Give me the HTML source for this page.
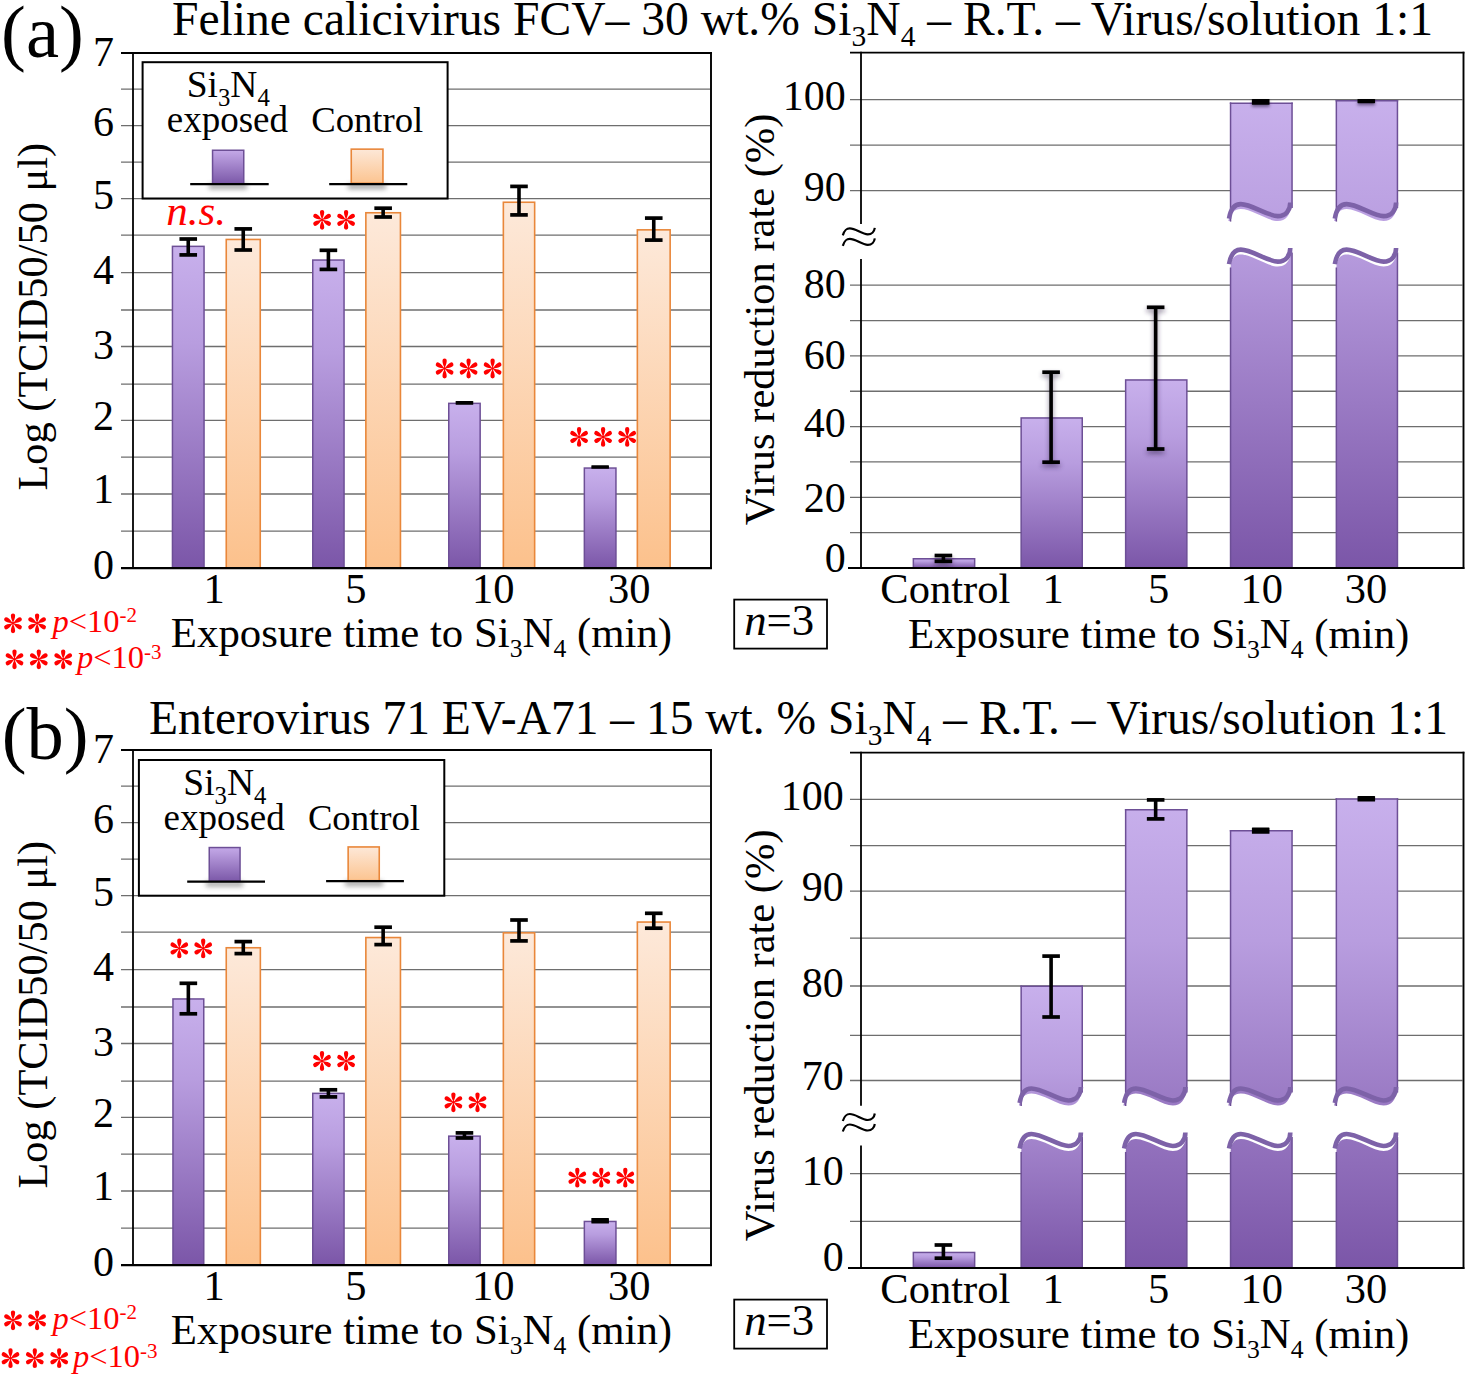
<!DOCTYPE html><html><head><meta charset="utf-8"><style>html,body{margin:0;padding:0;background:#fff;width:1467px;height:1376px;overflow:hidden}svg{display:block}text{font-family:"Liberation Serif",serif}</style></head><body>
<svg width="1467" height="1376" viewBox="0 0 1467 1376" font-family="Liberation Serif, serif">
<defs>
<linearGradient id="gp" x1="0" y1="0" x2="0" y2="1"><stop offset="0" stop-color="#c8b0ec"/><stop offset="0.3" stop-color="#b89ddf"/><stop offset="1" stop-color="#7b56a8"/></linearGradient>
<linearGradient id="go" x1="0" y1="0" x2="0" y2="1"><stop offset="0" stop-color="#fde9da"/><stop offset="1" stop-color="#fcc18c"/></linearGradient>
<linearGradient id="gpl" x1="0" y1="0" x2="0" y2="1"><stop offset="0" stop-color="#c4a9e8"/><stop offset="1" stop-color="#7b58a8"/></linearGradient>
<linearGradient id="gol" x1="0" y1="0" x2="0" y2="1"><stop offset="0" stop-color="#fde8d8"/><stop offset="1" stop-color="#fcc490"/></linearGradient>
<linearGradient id="gA10" gradientUnits="userSpaceOnUse" x1="0" y1="100" x2="0" y2="568"><stop offset="0" stop-color="#c8b0ec"/><stop offset="0.3" stop-color="#b89ddf"/><stop offset="1" stop-color="#7b56a8"/></linearGradient>
<linearGradient id="gB1" gradientUnits="userSpaceOnUse" x1="0" y1="985" x2="0" y2="1268"><stop offset="0" stop-color="#c8b0ec"/><stop offset="0.3" stop-color="#b89ddf"/><stop offset="1" stop-color="#7b56a8"/></linearGradient>
<linearGradient id="gB5" gradientUnits="userSpaceOnUse" x1="0" y1="800" x2="0" y2="1268"><stop offset="0" stop-color="#c8b0ec"/><stop offset="0.3" stop-color="#b89ddf"/><stop offset="1" stop-color="#7b56a8"/></linearGradient>
<filter id="blur2" x="-50%" y="-200%" width="200%" height="500%"><feGaussianBlur stdDeviation="1.8"/></filter>
<filter id="blur2b" x="-50%" y="-50%" width="200%" height="200%"><feGaussianBlur stdDeviation="2.4"/></filter>
<filter id="blur3" x="-50%" y="-200%" width="200%" height="500%"><feGaussianBlur stdDeviation="2.5"/></filter>
<g id="ast"><path d="M0,0 C-0.6,-2.2 -2.15,-4.6 -2.15,-7.75 A2.15,2.15 0 1 1 2.15,-7.75 C2.15,-4.6 0.6,-2.2 0,0 Z" transform="rotate(0)"/><path d="M0,0 C-0.6,-2.2 -2.15,-4.6 -2.15,-7.75 A2.15,2.15 0 1 1 2.15,-7.75 C2.15,-4.6 0.6,-2.2 0,0 Z" transform="rotate(60)"/><path d="M0,0 C-0.6,-2.2 -2.15,-4.6 -2.15,-7.75 A2.15,2.15 0 1 1 2.15,-7.75 C2.15,-4.6 0.6,-2.2 0,0 Z" transform="rotate(120)"/><path d="M0,0 C-0.6,-2.2 -2.15,-4.6 -2.15,-7.75 A2.15,2.15 0 1 1 2.15,-7.75 C2.15,-4.6 0.6,-2.2 0,0 Z" transform="rotate(180)"/><path d="M0,0 C-0.6,-2.2 -2.15,-4.6 -2.15,-7.75 A2.15,2.15 0 1 1 2.15,-7.75 C2.15,-4.6 0.6,-2.2 0,0 Z" transform="rotate(240)"/><path d="M0,0 C-0.6,-2.2 -2.15,-4.6 -2.15,-7.75 A2.15,2.15 0 1 1 2.15,-7.75 C2.15,-4.6 0.6,-2.2 0,0 Z" transform="rotate(300)"/><circle r="1.3"/></g>
</defs>
<text x="1.1" y="56.7" font-size="74.5" text-anchor="start" fill="#000"  >(a)</text>
<text x="172" y="34.8" font-size="47.6" text-anchor="start" fill="#000"  >Feline calicivirus FCV– 30 wt.% Si<tspan font-size="29.51" dy="10.95">3</tspan><tspan dy="-10.95">N</tspan><tspan font-size="29.51" dy="10.95">4</tspan><tspan dy="-10.95"> – R.T. – Virus/solution 1:1</tspan></text>
<line x1="121" y1="89.1" x2="710" y2="89.1" stroke="#6e6e6e" stroke-width="1.3" />
<line x1="121" y1="125.6" x2="710" y2="125.6" stroke="#6e6e6e" stroke-width="1.3" />
<line x1="121" y1="162.1" x2="710" y2="162.1" stroke="#6e6e6e" stroke-width="1.3" />
<line x1="121" y1="198.6" x2="710" y2="198.6" stroke="#6e6e6e" stroke-width="1.3" />
<line x1="121" y1="235.2" x2="710" y2="235.2" stroke="#6e6e6e" stroke-width="1.3" />
<line x1="121" y1="272.7" x2="710" y2="272.7" stroke="#6e6e6e" stroke-width="1.3" />
<line x1="121" y1="310" x2="710" y2="310" stroke="#6e6e6e" stroke-width="1.3" />
<line x1="121" y1="346.5" x2="710" y2="346.5" stroke="#6e6e6e" stroke-width="1.3" />
<line x1="121" y1="384.2" x2="710" y2="384.2" stroke="#6e6e6e" stroke-width="1.3" />
<line x1="121" y1="420.3" x2="710" y2="420.3" stroke="#6e6e6e" stroke-width="1.3" />
<line x1="121" y1="457.2" x2="710" y2="457.2" stroke="#6e6e6e" stroke-width="1.3" />
<line x1="121" y1="494" x2="710" y2="494" stroke="#6e6e6e" stroke-width="1.3" />
<line x1="121" y1="531.1" x2="710" y2="531.1" stroke="#6e6e6e" stroke-width="1.3" />
<rect x="172.45" y="246.35" width="31.6" height="321.75" fill="url(#gp)" stroke="#6d4f96" stroke-width="1.5"/>
<rect x="226.25" y="239.45" width="34" height="328.65" fill="url(#go)" stroke="#e9873a" stroke-width="1.6"/>
<rect x="312.75" y="260.05" width="31.3" height="308.05" fill="url(#gp)" stroke="#6d4f96" stroke-width="1.5"/>
<rect x="365.85" y="212.75" width="34.6" height="355.35" fill="url(#go)" stroke="#e9873a" stroke-width="1.6"/>
<rect x="448.75" y="403.35" width="31.4" height="164.75" fill="url(#gp)" stroke="#6d4f96" stroke-width="1.5"/>
<rect x="503.35" y="202.25" width="31.3" height="365.85" fill="url(#go)" stroke="#e9873a" stroke-width="1.6"/>
<rect x="584.35" y="468.05" width="31.6" height="100.05" fill="url(#gp)" stroke="#6d4f96" stroke-width="1.5"/>
<rect x="637.35" y="229.85" width="32.8" height="338.25" fill="url(#go)" stroke="#e9873a" stroke-width="1.6"/>
<rect x="142.6" y="62.2" width="305" height="136.3" fill="#fff" stroke="#000" stroke-width="2"/>
<rect x="209" y="184" width="38" height="5" fill="#555" opacity="0.55" filter="url(#blur3)"/>
<rect x="348" y="184" width="38" height="5" fill="#555" opacity="0.55" filter="url(#blur3)"/>
<rect x="212.55" y="150.25" width="31.2" height="33.45" fill="url(#gpl)" stroke="#6d4f96" stroke-width="1.5"/>
<rect x="351.25" y="149.15" width="31.7" height="34.15" fill="url(#gol)" stroke="#e9873a" stroke-width="1.6"/>
<line x1="190.2" y1="184.1" x2="268.7" y2="184.1" stroke="#000" stroke-width="2.2" />
<line x1="329.2" y1="184.1" x2="407.3" y2="184.1" stroke="#000" stroke-width="2.2" />
<text x="228.2" y="97" font-size="37.5" text-anchor="middle" fill="#000"  >Si<tspan font-size="24.75" dy="9">3</tspan><tspan dy="-9">N</tspan><tspan font-size="24.75" dy="9">4</tspan><tspan dy="-9"></tspan></text>
<text x="227.4" y="132.4" font-size="37" text-anchor="middle" fill="#000"  >exposed</text>
<text x="367.25" y="132.4" font-size="36.7" text-anchor="middle" fill="#000"  >Control</text>
<g stroke="#000" fill="none" >
<line x1="188.25" y1="239" x2="188.25" y2="254.9" stroke-width="3.6"/>
<line x1="179.45" y1="239" x2="197.05" y2="239" stroke-width="3.7"/>
<line x1="179.45" y1="254.9" x2="197.05" y2="254.9" stroke-width="3.7"/>
</g>
<g stroke="#000" fill="none" >
<line x1="243.25" y1="228.9" x2="243.25" y2="250" stroke-width="3.6"/>
<line x1="234.45" y1="228.9" x2="252.05" y2="228.9" stroke-width="3.7"/>
<line x1="234.45" y1="250" x2="252.05" y2="250" stroke-width="3.7"/>
</g>
<g stroke="#000" fill="none" >
<line x1="328.4" y1="250.3" x2="328.4" y2="269.4" stroke-width="3.6"/>
<line x1="319.6" y1="250.3" x2="337.2" y2="250.3" stroke-width="3.7"/>
<line x1="319.6" y1="269.4" x2="337.2" y2="269.4" stroke-width="3.7"/>
</g>
<g stroke="#000" fill="none" >
<line x1="383.15" y1="208.2" x2="383.15" y2="217" stroke-width="3.6"/>
<line x1="374.35" y1="208.2" x2="391.95" y2="208.2" stroke-width="3.7"/>
<line x1="374.35" y1="217" x2="391.95" y2="217" stroke-width="3.7"/>
</g>
<rect x="455.65" y="401" width="17.6" height="3.8" fill="#000" rx="0.6"/>
<g stroke="#000" fill="none" >
<line x1="519" y1="186.4" x2="519" y2="214.9" stroke-width="3.6"/>
<line x1="510.2" y1="186.4" x2="527.8" y2="186.4" stroke-width="3.7"/>
<line x1="510.2" y1="214.9" x2="527.8" y2="214.9" stroke-width="3.7"/>
</g>
<rect x="591.35" y="465.2" width="17.6" height="3.6" fill="#000" rx="0.6"/>
<g stroke="#000" fill="none" >
<line x1="653.75" y1="218.1" x2="653.75" y2="240.1" stroke-width="3.6"/>
<line x1="644.95" y1="218.1" x2="662.55" y2="218.1" stroke-width="3.7"/>
<line x1="644.95" y1="240.1" x2="662.55" y2="240.1" stroke-width="3.7"/>
</g>
<line x1="121" y1="53" x2="711.9" y2="53" stroke="#000" stroke-width="1.9" />
<line x1="133" y1="52.1" x2="133" y2="568.1" stroke="#000" stroke-width="1.8" />
<line x1="711" y1="52.1" x2="711" y2="569.1" stroke="#000" stroke-width="1.9" />
<line x1="121" y1="568.1" x2="711.9" y2="568.1" stroke="#000" stroke-width="2.2" />
<text x="114" y="578.9" font-size="42" text-anchor="end" fill="#000"  >0</text>
<text x="114" y="503" font-size="42" text-anchor="end" fill="#000"  >1</text>
<text x="114" y="430.4" font-size="42" text-anchor="end" fill="#000"  >2</text>
<text x="114" y="358.6" font-size="42" text-anchor="end" fill="#000"  >3</text>
<text x="114" y="283.9" font-size="42" text-anchor="end" fill="#000"  >4</text>
<text x="114" y="208.5" font-size="42" text-anchor="end" fill="#000"  >5</text>
<text x="114" y="136.2" font-size="42" text-anchor="end" fill="#000"  >6</text>
<text x="114" y="65.5" font-size="42" text-anchor="end" fill="#000"  >7</text>
<text x="166.3" y="224.5" font-size="43" text-anchor="start" fill="#f00" font-style="italic" >n.s.</text>
<use href="#ast" x="322.1" y="219.8" fill="#f00"/>
<use href="#ast" x="346.1" y="219.8" fill="#f00"/>
<use href="#ast" x="444.6" y="368.5" fill="#f00"/>
<use href="#ast" x="468.6" y="368.5" fill="#f00"/>
<use href="#ast" x="492.6" y="368.5" fill="#f00"/>
<use href="#ast" x="579.1" y="436.9" fill="#f00"/>
<use href="#ast" x="603.1" y="436.9" fill="#f00"/>
<use href="#ast" x="627.2" y="436.9" fill="#f00"/>
<text x="214" y="603.2" font-size="42.5" text-anchor="middle" fill="#000"  >1</text>
<text x="355.8" y="603.2" font-size="42.5" text-anchor="middle" fill="#000"  >5</text>
<text x="493.2" y="603.2" font-size="42.5" text-anchor="middle" fill="#000"  >10</text>
<text x="629.2" y="603.2" font-size="42.5" text-anchor="middle" fill="#000"  >30</text>
<text transform="translate(47.4,316.7) rotate(-90)" font-size="42.4" text-anchor="middle">Log (TCID50/50 μl)</text>
<text x="421.45" y="646.8" font-size="42.8" text-anchor="middle" fill="#000"  >Exposure time to Si<tspan font-size="25.68" dy="9.84">3</tspan><tspan dy="-9.84">N</tspan><tspan font-size="25.68" dy="9.84">4</tspan><tspan dy="-9.84"> (min)</tspan></text>
<use href="#ast" x="13" y="623.3" fill="#f00"/>
<use href="#ast" x="37.1" y="623.3" fill="#f00"/>
<text x="52.5" y="631.6" font-size="32.5" text-anchor="start" fill="#f00"  ><tspan font-style="italic">p</tspan>&lt;10<tspan font-size="21" dy="-9.2">-2</tspan></text>
<use href="#ast" x="14.5" y="659.3" fill="#f00"/>
<use href="#ast" x="38.8" y="659.3" fill="#f00"/>
<use href="#ast" x="63.2" y="659.3" fill="#f00"/>
<text x="77" y="667.9" font-size="32.5" text-anchor="start" fill="#f00"  ><tspan font-style="italic">p</tspan>&lt;10<tspan font-size="21" dy="-9.2">-3</tspan></text>
<line x1="850" y1="99.7" x2="1462.5" y2="99.7" stroke="#6e6e6e" stroke-width="1.3" />
<line x1="850" y1="145.15" x2="1462.5" y2="145.15" stroke="#6e6e6e" stroke-width="1.3" />
<line x1="850" y1="190.6" x2="1462.5" y2="190.6" stroke="#6e6e6e" stroke-width="1.3" />
<line x1="850" y1="532.65" x2="1462.5" y2="532.65" stroke="#6e6e6e" stroke-width="1.3" />
<line x1="850" y1="497.3" x2="1462.5" y2="497.3" stroke="#6e6e6e" stroke-width="1.3" />
<line x1="850" y1="461.95" x2="1462.5" y2="461.95" stroke="#6e6e6e" stroke-width="1.3" />
<line x1="850" y1="426.6" x2="1462.5" y2="426.6" stroke="#6e6e6e" stroke-width="1.3" />
<line x1="850" y1="391.25" x2="1462.5" y2="391.25" stroke="#6e6e6e" stroke-width="1.3" />
<line x1="850" y1="355.9" x2="1462.5" y2="355.9" stroke="#6e6e6e" stroke-width="1.3" />
<line x1="850" y1="320.55" x2="1462.5" y2="320.55" stroke="#6e6e6e" stroke-width="1.3" />
<line x1="850" y1="285.2" x2="1462.5" y2="285.2" stroke="#6e6e6e" stroke-width="1.3" />
<rect x="913.35" y="558.75" width="61.3" height="9.25" fill="url(#gp)" stroke="#6d4f96" stroke-width="1.5"/>
<rect x="1021.15" y="417.95" width="61.1" height="150.05" fill="url(#gp)" stroke="#6d4f96" stroke-width="1.5"/>
<rect x="1125.65" y="379.95" width="61.2" height="188.05" fill="url(#gp)" stroke="#6d4f96" stroke-width="1.5"/>
<path d="M1230.55,103.15 L1292.05,103.15 L1292.05,206.1 L1290.3,207.6 C1290.3,215.1 1285.8,221.1 1277.8,221.1 C1267.8,221.1 1251.8,209.1 1240.8,209.1 C1234.8,209.1 1229.8,213.1 1228.3,221.1 L1230.55,221.1 Z" fill="url(#gA10)"/>
<line x1="1230.55" y1="102.4" x2="1230.55" y2="221.6" stroke="#6d4f96" stroke-width="1.5" />
<line x1="1292.05" y1="102.4" x2="1292.05" y2="208.1" stroke="#6d4f96" stroke-width="1.5" />
<line x1="1229.8" y1="103.15" x2="1292.8" y2="103.15" stroke="#6d4f96" stroke-width="1.5" />
<path d="M1229,218.6 C1230.8,208.1 1235.3,204.1 1240.8,204.1 C1251.8,204.1 1267.8,216.1 1277.8,216.1 C1285.8,216.1 1290.3,210.1 1290.3,202.6" fill="none" stroke="#7d62a8" stroke-width="4.6"/>
<path d="M1230.55,268.6 C1230.8,258.6 1234.8,254.6 1240.8,254.6 C1251.8,254.6 1267.8,266.6 1277.8,266.6 C1283.8,266.6 1287.8,263.6 1290.3,256.6 L1292.05,250.1 L1292.05,568 L1230.55,568 Z" fill="url(#gA10)"/>
<line x1="1230.55" y1="267.6" x2="1230.55" y2="568" stroke="#6d4f96" stroke-width="1.5" />
<line x1="1292.05" y1="252.6" x2="1292.05" y2="568" stroke="#6d4f96" stroke-width="1.5" />
<path d="M1229,264.1 C1230.8,253.6 1235.3,249.6 1240.8,249.6 C1251.8,249.6 1267.8,261.6 1277.8,261.6 C1285.8,261.6 1290.3,255.6 1290.3,248.1" fill="none" stroke="#7d62a8" stroke-width="4.6"/>
<path d="M1336.35,100.65 L1397.45,100.65 L1397.45,206.1 L1396.1,207.6 C1396.1,215.1 1391.6,221.1 1383.6,221.1 C1373.6,221.1 1357.6,209.1 1346.6,209.1 C1340.6,209.1 1335.6,213.1 1334.1,221.1 L1336.35,221.1 Z" fill="url(#gA10)"/>
<line x1="1336.35" y1="99.9" x2="1336.35" y2="221.6" stroke="#6d4f96" stroke-width="1.5" />
<line x1="1397.45" y1="99.9" x2="1397.45" y2="208.1" stroke="#6d4f96" stroke-width="1.5" />
<line x1="1335.6" y1="100.65" x2="1398.2" y2="100.65" stroke="#6d4f96" stroke-width="1.5" />
<path d="M1334.8,218.6 C1336.6,208.1 1341.1,204.1 1346.6,204.1 C1357.6,204.1 1373.6,216.1 1383.6,216.1 C1391.6,216.1 1396.1,210.1 1396.1,202.6" fill="none" stroke="#7d62a8" stroke-width="4.6"/>
<path d="M1336.35,268.6 C1336.6,258.6 1340.6,254.6 1346.6,254.6 C1357.6,254.6 1373.6,266.6 1383.6,266.6 C1389.6,266.6 1393.6,263.6 1396.1,256.6 L1397.45,250.1 L1397.45,568 L1336.35,568 Z" fill="url(#gA10)"/>
<line x1="1336.35" y1="267.6" x2="1336.35" y2="568" stroke="#6d4f96" stroke-width="1.5" />
<line x1="1397.45" y1="252.6" x2="1397.45" y2="568" stroke="#6d4f96" stroke-width="1.5" />
<path d="M1334.8,264.1 C1336.6,253.6 1341.1,249.6 1346.6,249.6 C1357.6,249.6 1373.6,261.6 1383.6,261.6 C1391.6,261.6 1396.1,255.6 1396.1,248.1" fill="none" stroke="#7d62a8" stroke-width="4.6"/>
<g stroke="#2a1a40" fill="none" opacity="0.55" filter="url(#blur2b)">
<line x1="943.4" y1="558.5" x2="943.4" y2="564.3" stroke-width="3.6"/>
<line x1="934.6" y1="558.5" x2="952.2" y2="558.5" stroke-width="3.7"/>
<line x1="934.6" y1="564.3" x2="952.2" y2="564.3" stroke-width="3.7"/>
</g>
<g stroke="#000" fill="none" >
<line x1="943.4" y1="555.5" x2="943.4" y2="561.3" stroke-width="3.6"/>
<line x1="934.6" y1="555.5" x2="952.2" y2="555.5" stroke-width="3.7"/>
<line x1="934.6" y1="561.3" x2="952.2" y2="561.3" stroke-width="3.7"/>
</g>
<g stroke="#2a1a40" fill="none" opacity="0.55" filter="url(#blur2b)">
<line x1="1051.1" y1="375.2" x2="1051.1" y2="465.2" stroke-width="3.6"/>
<line x1="1042.3" y1="375.2" x2="1059.9" y2="375.2" stroke-width="3.7"/>
<line x1="1042.3" y1="465.2" x2="1059.9" y2="465.2" stroke-width="3.7"/>
</g>
<g stroke="#000" fill="none" >
<line x1="1051.1" y1="372.2" x2="1051.1" y2="462.2" stroke-width="3.6"/>
<line x1="1042.3" y1="372.2" x2="1059.9" y2="372.2" stroke-width="3.7"/>
<line x1="1042.3" y1="462.2" x2="1059.9" y2="462.2" stroke-width="3.7"/>
</g>
<g stroke="#2a1a40" fill="none" opacity="0.55" filter="url(#blur2b)">
<line x1="1155.65" y1="310.3" x2="1155.65" y2="452" stroke-width="3.6"/>
<line x1="1146.85" y1="310.3" x2="1164.45" y2="310.3" stroke-width="3.7"/>
<line x1="1146.85" y1="452" x2="1164.45" y2="452" stroke-width="3.7"/>
</g>
<g stroke="#000" fill="none" >
<line x1="1155.65" y1="307.3" x2="1155.65" y2="449" stroke-width="3.6"/>
<line x1="1146.85" y1="307.3" x2="1164.45" y2="307.3" stroke-width="3.7"/>
<line x1="1146.85" y1="449" x2="1164.45" y2="449" stroke-width="3.7"/>
</g>
<rect x="1251.9" y="101.2" width="17.6" height="5.8" fill="#2a1a40" opacity="0.55" filter="url(#blur2)"/>
<rect x="1251.9" y="99" width="17.6" height="5.8" fill="#000" rx="0.6"/>
<rect x="1357.5" y="101.2" width="17.6" height="4.2" fill="#2a1a40" opacity="0.55" filter="url(#blur2)"/>
<rect x="1357.5" y="99" width="17.6" height="4.2" fill="#000" rx="0.6"/>
<line x1="850" y1="52.6" x2="1464.4" y2="52.6" stroke="#000" stroke-width="1.9" />
<line x1="861" y1="51.7" x2="861" y2="224" stroke="#000" stroke-width="1.8" />
<line x1="861" y1="259" x2="861" y2="568" stroke="#000" stroke-width="1.8" />
<line x1="1463.5" y1="51.7" x2="1463.5" y2="569" stroke="#000" stroke-width="1.9" />
<line x1="848" y1="568" x2="1464.4" y2="568" stroke="#000" stroke-width="2.2" />
<path d="M842.8,235.3 C844.8,229.3 846.8,228.3 849.8,228.3 C855.8,228.3 861.8,234.3 867.8,234.3 C871.8,234.3 874.3,231.3 874.8,227.8" fill="none" stroke="#000" stroke-width="2.2"/>
<path d="M842.8,245.8 C844.8,239.8 846.8,238.8 849.8,238.8 C855.8,238.8 861.8,244.8 867.8,244.8 C871.8,244.8 874.3,241.8 874.8,238.3" fill="none" stroke="#000" stroke-width="2.2"/>
<text x="845.7" y="110.45" font-size="42" text-anchor="end" fill="#000"  >100</text>
<text x="845.7" y="200.95" font-size="42" text-anchor="end" fill="#000"  >90</text>
<text x="845.7" y="297.5" font-size="42" text-anchor="end" fill="#000"  >80</text>
<text x="845.7" y="368.7" font-size="42" text-anchor="end" fill="#000"  >60</text>
<text x="845.7" y="437.4" font-size="42" text-anchor="end" fill="#000"  >40</text>
<text x="845.7" y="511.6" font-size="42" text-anchor="end" fill="#000"  >20</text>
<text x="845.7" y="571.9" font-size="42" text-anchor="end" fill="#000"  >0</text>
<text x="945.3" y="602.5" font-size="42.5" text-anchor="middle" fill="#000"  >Control</text>
<text x="1053.2" y="602.5" font-size="42.5" text-anchor="middle" fill="#000"  >1</text>
<text x="1158.7" y="602.5" font-size="42.5" text-anchor="middle" fill="#000"  >5</text>
<text x="1261.7" y="602.5" font-size="42.5" text-anchor="middle" fill="#000"  >10</text>
<text x="1365.9" y="602.5" font-size="42.5" text-anchor="middle" fill="#000"  >30</text>
<text transform="translate(773.7,319.4) rotate(-90)" font-size="42.5" text-anchor="middle">Virus reduction rate (%)</text>
<text x="1158.7" y="647.8" font-size="42.8" text-anchor="middle" fill="#000"  >Exposure time to Si<tspan font-size="25.68" dy="9.84">3</tspan><tspan dy="-9.84">N</tspan><tspan font-size="25.68" dy="9.84">4</tspan><tspan dy="-9.84"> (min)</tspan></text>
<rect x="734.2" y="599.6" width="92.8" height="49" fill="none" stroke="#000" stroke-width="1.8"/>
<text x="779.2" y="635.1" font-size="44.8" text-anchor="middle" fill="#000"  ><tspan font-style="italic">n</tspan>=3</text>
<text x="1.7" y="758.8" font-size="74.5" text-anchor="start" fill="#000"  >(b)</text>
<text x="149" y="734.4" font-size="47.5" text-anchor="start" fill="#000"  >Enterovirus 71 EV-A71 – 15 wt. % Si<tspan font-size="29.45" dy="10.93">3</tspan><tspan dy="-10.93">N</tspan><tspan font-size="29.45" dy="10.93">4</tspan><tspan dy="-10.93"> – R.T. – Virus/solution 1:1</tspan></text>
<line x1="121" y1="786.1" x2="710" y2="786.1" stroke="#6e6e6e" stroke-width="1.3" />
<line x1="121" y1="822.6" x2="710" y2="822.6" stroke="#6e6e6e" stroke-width="1.3" />
<line x1="121" y1="859.1" x2="710" y2="859.1" stroke="#6e6e6e" stroke-width="1.3" />
<line x1="121" y1="895.6" x2="710" y2="895.6" stroke="#6e6e6e" stroke-width="1.3" />
<line x1="121" y1="932.2" x2="710" y2="932.2" stroke="#6e6e6e" stroke-width="1.3" />
<line x1="121" y1="969.7" x2="710" y2="969.7" stroke="#6e6e6e" stroke-width="1.3" />
<line x1="121" y1="1007" x2="710" y2="1007" stroke="#6e6e6e" stroke-width="1.3" />
<line x1="121" y1="1043.5" x2="710" y2="1043.5" stroke="#6e6e6e" stroke-width="1.3" />
<line x1="121" y1="1081.2" x2="710" y2="1081.2" stroke="#6e6e6e" stroke-width="1.3" />
<line x1="121" y1="1117.3" x2="710" y2="1117.3" stroke="#6e6e6e" stroke-width="1.3" />
<line x1="121" y1="1154.2" x2="710" y2="1154.2" stroke="#6e6e6e" stroke-width="1.3" />
<line x1="121" y1="1191" x2="710" y2="1191" stroke="#6e6e6e" stroke-width="1.3" />
<line x1="121" y1="1228.1" x2="710" y2="1228.1" stroke="#6e6e6e" stroke-width="1.3" />
<rect x="172.95" y="998.95" width="30.8" height="266.15" fill="url(#gp)" stroke="#6d4f96" stroke-width="1.5"/>
<rect x="226.25" y="947.75" width="34.1" height="317.35" fill="url(#go)" stroke="#e9873a" stroke-width="1.6"/>
<rect x="312.75" y="1093.35" width="31.3" height="171.75" fill="url(#gp)" stroke="#6d4f96" stroke-width="1.5"/>
<rect x="365.85" y="937.55" width="34.6" height="327.55" fill="url(#go)" stroke="#e9873a" stroke-width="1.6"/>
<rect x="448.75" y="1136.15" width="31.4" height="128.95" fill="url(#gp)" stroke="#6d4f96" stroke-width="1.5"/>
<rect x="503.35" y="932.85" width="31.3" height="332.25" fill="url(#go)" stroke="#e9873a" stroke-width="1.6"/>
<rect x="584.35" y="1221.45" width="31.6" height="43.65" fill="url(#gp)" stroke="#6d4f96" stroke-width="1.5"/>
<rect x="637.35" y="922.05" width="32.8" height="343.05" fill="url(#go)" stroke="#e9873a" stroke-width="1.6"/>
<rect x="138.9" y="760" width="305.4" height="135.7" fill="#fff" stroke="#000" stroke-width="2"/>
<rect x="206" y="881.5" width="37" height="5" fill="#555" opacity="0.55" filter="url(#blur3)"/>
<rect x="345" y="881" width="38" height="5" fill="#555" opacity="0.55" filter="url(#blur3)"/>
<rect x="209.25" y="847.55" width="30.8" height="33.75" fill="url(#gpl)" stroke="#6d4f96" stroke-width="1.5"/>
<rect x="348.15" y="846.95" width="31.1" height="33.75" fill="url(#gol)" stroke="#e9873a" stroke-width="1.6"/>
<line x1="187.2" y1="881.6" x2="265" y2="881.6" stroke="#000" stroke-width="2.2" />
<line x1="326.1" y1="881.2" x2="403.9" y2="881.2" stroke="#000" stroke-width="2.2" />
<text x="224.9" y="794.8" font-size="37.5" text-anchor="middle" fill="#000"  >Si<tspan font-size="24.75" dy="9">3</tspan><tspan dy="-9">N</tspan><tspan font-size="24.75" dy="9">4</tspan><tspan dy="-9"></tspan></text>
<text x="224.1" y="830.2" font-size="37" text-anchor="middle" fill="#000"  >exposed</text>
<text x="363.95" y="830.2" font-size="36.7" text-anchor="middle" fill="#000"  >Control</text>
<g stroke="#000" fill="none" >
<line x1="188.35" y1="983.3" x2="188.35" y2="1013.8" stroke-width="3.6"/>
<line x1="179.55" y1="983.3" x2="197.15" y2="983.3" stroke-width="3.7"/>
<line x1="179.55" y1="1013.8" x2="197.15" y2="1013.8" stroke-width="3.7"/>
</g>
<g stroke="#000" fill="none" >
<line x1="243.3" y1="941.6" x2="243.3" y2="953.6" stroke-width="3.6"/>
<line x1="234.5" y1="941.6" x2="252.1" y2="941.6" stroke-width="3.7"/>
<line x1="234.5" y1="953.6" x2="252.1" y2="953.6" stroke-width="3.7"/>
</g>
<g stroke="#000" fill="none" >
<line x1="328.4" y1="1089.8" x2="328.4" y2="1096.9" stroke-width="3.6"/>
<line x1="319.6" y1="1089.8" x2="337.2" y2="1089.8" stroke-width="3.7"/>
<line x1="319.6" y1="1096.9" x2="337.2" y2="1096.9" stroke-width="3.7"/>
</g>
<g stroke="#000" fill="none" >
<line x1="383.15" y1="927.2" x2="383.15" y2="944.6" stroke-width="3.6"/>
<line x1="374.35" y1="927.2" x2="391.95" y2="927.2" stroke-width="3.7"/>
<line x1="374.35" y1="944.6" x2="391.95" y2="944.6" stroke-width="3.7"/>
</g>
<g stroke="#000" fill="none" >
<line x1="464.45" y1="1132.9" x2="464.45" y2="1138" stroke-width="3.6"/>
<line x1="455.65" y1="1132.9" x2="473.25" y2="1132.9" stroke-width="3.7"/>
<line x1="455.65" y1="1138" x2="473.25" y2="1138" stroke-width="3.7"/>
</g>
<g stroke="#000" fill="none" >
<line x1="519" y1="920" x2="519" y2="940.9" stroke-width="3.6"/>
<line x1="510.2" y1="920" x2="527.8" y2="920" stroke-width="3.7"/>
<line x1="510.2" y1="940.9" x2="527.8" y2="940.9" stroke-width="3.7"/>
</g>
<rect x="591.35" y="1217.9" width="17.6" height="5.6" fill="#000" rx="0.6"/>
<g stroke="#000" fill="none" >
<line x1="653.75" y1="913.3" x2="653.75" y2="928.2" stroke-width="3.6"/>
<line x1="644.95" y1="913.3" x2="662.55" y2="913.3" stroke-width="3.7"/>
<line x1="644.95" y1="928.2" x2="662.55" y2="928.2" stroke-width="3.7"/>
</g>
<line x1="121" y1="750" x2="711.9" y2="750" stroke="#000" stroke-width="1.9" />
<line x1="133" y1="749.1" x2="133" y2="1265.1" stroke="#000" stroke-width="1.8" />
<line x1="711" y1="749.1" x2="711" y2="1266.1" stroke="#000" stroke-width="1.9" />
<line x1="121" y1="1265.1" x2="711.9" y2="1265.1" stroke="#000" stroke-width="2.2" />
<text x="114" y="1275.9" font-size="42" text-anchor="end" fill="#000"  >0</text>
<text x="114" y="1200" font-size="42" text-anchor="end" fill="#000"  >1</text>
<text x="114" y="1127.4" font-size="42" text-anchor="end" fill="#000"  >2</text>
<text x="114" y="1055.6" font-size="42" text-anchor="end" fill="#000"  >3</text>
<text x="114" y="980.9" font-size="42" text-anchor="end" fill="#000"  >4</text>
<text x="114" y="905.5" font-size="42" text-anchor="end" fill="#000"  >5</text>
<text x="114" y="833.2" font-size="42" text-anchor="end" fill="#000"  >6</text>
<text x="114" y="762.5" font-size="42" text-anchor="end" fill="#000"  >7</text>
<use href="#ast" x="179.3" y="948.4" fill="#f00"/>
<use href="#ast" x="203.2" y="948.4" fill="#f00"/>
<use href="#ast" x="322" y="1061" fill="#f00"/>
<use href="#ast" x="346.1" y="1061" fill="#f00"/>
<use href="#ast" x="453.4" y="1102.3" fill="#f00"/>
<use href="#ast" x="477.5" y="1102.3" fill="#f00"/>
<use href="#ast" x="577.3" y="1177.7" fill="#f00"/>
<use href="#ast" x="601.3" y="1177.7" fill="#f00"/>
<use href="#ast" x="625.3" y="1177.7" fill="#f00"/>
<text x="214" y="1300.2" font-size="42.5" text-anchor="middle" fill="#000"  >1</text>
<text x="355.8" y="1300.2" font-size="42.5" text-anchor="middle" fill="#000"  >5</text>
<text x="493.2" y="1300.2" font-size="42.5" text-anchor="middle" fill="#000"  >10</text>
<text x="629.2" y="1300.2" font-size="42.5" text-anchor="middle" fill="#000"  >30</text>
<text transform="translate(47.4,1014.7) rotate(-90)" font-size="42.4" text-anchor="middle">Log (TCID50/50 μl)</text>
<text x="421.45" y="1343.8" font-size="42.8" text-anchor="middle" fill="#000"  >Exposure time to Si<tspan font-size="25.68" dy="9.84">3</tspan><tspan dy="-9.84">N</tspan><tspan font-size="25.68" dy="9.84">4</tspan><tspan dy="-9.84"> (min)</tspan></text>
<use href="#ast" x="13" y="1320.3" fill="#f00"/>
<use href="#ast" x="37.1" y="1320.3" fill="#f00"/>
<text x="52.5" y="1328.6" font-size="32.5" text-anchor="start" fill="#f00"  ><tspan font-style="italic">p</tspan>&lt;10<tspan font-size="21" dy="-9.2">-2</tspan></text>
<use href="#ast" x="10.5" y="1358.2" fill="#f00"/>
<use href="#ast" x="34.8" y="1358.2" fill="#f00"/>
<use href="#ast" x="59.2" y="1358.2" fill="#f00"/>
<text x="73" y="1366.8" font-size="32.5" text-anchor="start" fill="#f00"  ><tspan font-style="italic">p</tspan>&lt;10<tspan font-size="21" dy="-9.2">-3</tspan></text>
<line x1="850" y1="799.3" x2="1462.5" y2="799.3" stroke="#6e6e6e" stroke-width="1.3" />
<line x1="850" y1="845.6" x2="1462.5" y2="845.6" stroke="#6e6e6e" stroke-width="1.3" />
<line x1="850" y1="891.2" x2="1462.5" y2="891.2" stroke="#6e6e6e" stroke-width="1.3" />
<line x1="850" y1="938.1" x2="1462.5" y2="938.1" stroke="#6e6e6e" stroke-width="1.3" />
<line x1="850" y1="986" x2="1462.5" y2="986" stroke="#6e6e6e" stroke-width="1.3" />
<line x1="850" y1="1035.3" x2="1462.5" y2="1035.3" stroke="#6e6e6e" stroke-width="1.3" />
<line x1="850" y1="1080.5" x2="1462.5" y2="1080.5" stroke="#6e6e6e" stroke-width="1.3" />
<line x1="850" y1="1221.4" x2="1462.5" y2="1221.4" stroke="#6e6e6e" stroke-width="1.3" />
<line x1="850" y1="1173.7" x2="1462.5" y2="1173.7" stroke="#6e6e6e" stroke-width="1.3" />
<rect x="913.35" y="1252.45" width="61.3" height="15.55" fill="url(#gp)" stroke="#6d4f96" stroke-width="1.5"/>
<path d="M1021.15,986.25 L1082.25,986.25 L1082.25,1090.5 L1080.9,1092 C1080.9,1099.5 1076.4,1105.5 1068.4,1105.5 C1058.4,1105.5 1042.4,1093.5 1031.4,1093.5 C1025.4,1093.5 1020.4,1097.5 1018.9,1105.5 L1021.15,1105.5 Z" fill="url(#gB1)"/>
<line x1="1021.15" y1="985.5" x2="1021.15" y2="1106" stroke="#6d4f96" stroke-width="1.5" />
<line x1="1082.25" y1="985.5" x2="1082.25" y2="1092.5" stroke="#6d4f96" stroke-width="1.5" />
<line x1="1020.4" y1="986.25" x2="1083" y2="986.25" stroke="#6d4f96" stroke-width="1.5" />
<path d="M1019.6,1103 C1021.4,1092.5 1025.9,1088.5 1031.4,1088.5 C1042.4,1088.5 1058.4,1100.5 1068.4,1100.5 C1076.4,1100.5 1080.9,1094.5 1080.9,1087" fill="none" stroke="#7d62a8" stroke-width="4.6"/>
<path d="M1021.15,1153 C1021.4,1143 1025.4,1139 1031.4,1139 C1042.4,1139 1058.4,1151 1068.4,1151 C1074.4,1151 1078.4,1148 1080.9,1141 L1082.25,1134.5 L1082.25,1268 L1021.15,1268 Z" fill="url(#gB1)"/>
<line x1="1021.15" y1="1152" x2="1021.15" y2="1268" stroke="#6d4f96" stroke-width="1.5" />
<line x1="1082.25" y1="1137" x2="1082.25" y2="1268" stroke="#6d4f96" stroke-width="1.5" />
<path d="M1019.6,1148.5 C1021.4,1138 1025.9,1134 1031.4,1134 C1042.4,1134 1058.4,1146 1068.4,1146 C1076.4,1146 1080.9,1140 1080.9,1132.5" fill="none" stroke="#7d62a8" stroke-width="4.6"/>
<path d="M1125.65,809.65 L1186.85,809.65 L1186.85,1090.5 L1185.4,1092 C1185.4,1099.5 1180.9,1105.5 1172.9,1105.5 C1162.9,1105.5 1146.9,1093.5 1135.9,1093.5 C1129.9,1093.5 1124.9,1097.5 1123.4,1105.5 L1125.65,1105.5 Z" fill="url(#gB5)"/>
<line x1="1125.65" y1="808.9" x2="1125.65" y2="1106" stroke="#6d4f96" stroke-width="1.5" />
<line x1="1186.85" y1="808.9" x2="1186.85" y2="1092.5" stroke="#6d4f96" stroke-width="1.5" />
<line x1="1124.9" y1="809.65" x2="1187.6" y2="809.65" stroke="#6d4f96" stroke-width="1.5" />
<path d="M1124.1,1103 C1125.9,1092.5 1130.4,1088.5 1135.9,1088.5 C1146.9,1088.5 1162.9,1100.5 1172.9,1100.5 C1180.9,1100.5 1185.4,1094.5 1185.4,1087" fill="none" stroke="#7d62a8" stroke-width="4.6"/>
<path d="M1125.65,1153 C1125.9,1143 1129.9,1139 1135.9,1139 C1146.9,1139 1162.9,1151 1172.9,1151 C1178.9,1151 1182.9,1148 1185.4,1141 L1186.85,1134.5 L1186.85,1268 L1125.65,1268 Z" fill="url(#gB5)"/>
<line x1="1125.65" y1="1152" x2="1125.65" y2="1268" stroke="#6d4f96" stroke-width="1.5" />
<line x1="1186.85" y1="1137" x2="1186.85" y2="1268" stroke="#6d4f96" stroke-width="1.5" />
<path d="M1124.1,1148.5 C1125.9,1138 1130.4,1134 1135.9,1134 C1146.9,1134 1162.9,1146 1172.9,1146 C1180.9,1146 1185.4,1140 1185.4,1132.5" fill="none" stroke="#7d62a8" stroke-width="4.6"/>
<path d="M1230.55,830.85 L1292.05,830.85 L1292.05,1090.5 L1290.3,1092 C1290.3,1099.5 1285.8,1105.5 1277.8,1105.5 C1267.8,1105.5 1251.8,1093.5 1240.8,1093.5 C1234.8,1093.5 1229.8,1097.5 1228.3,1105.5 L1230.55,1105.5 Z" fill="url(#gB5)"/>
<line x1="1230.55" y1="830.1" x2="1230.55" y2="1106" stroke="#6d4f96" stroke-width="1.5" />
<line x1="1292.05" y1="830.1" x2="1292.05" y2="1092.5" stroke="#6d4f96" stroke-width="1.5" />
<line x1="1229.8" y1="830.85" x2="1292.8" y2="830.85" stroke="#6d4f96" stroke-width="1.5" />
<path d="M1229,1103 C1230.8,1092.5 1235.3,1088.5 1240.8,1088.5 C1251.8,1088.5 1267.8,1100.5 1277.8,1100.5 C1285.8,1100.5 1290.3,1094.5 1290.3,1087" fill="none" stroke="#7d62a8" stroke-width="4.6"/>
<path d="M1230.55,1153 C1230.8,1143 1234.8,1139 1240.8,1139 C1251.8,1139 1267.8,1151 1277.8,1151 C1283.8,1151 1287.8,1148 1290.3,1141 L1292.05,1134.5 L1292.05,1268 L1230.55,1268 Z" fill="url(#gB5)"/>
<line x1="1230.55" y1="1152" x2="1230.55" y2="1268" stroke="#6d4f96" stroke-width="1.5" />
<line x1="1292.05" y1="1137" x2="1292.05" y2="1268" stroke="#6d4f96" stroke-width="1.5" />
<path d="M1229,1148.5 C1230.8,1138 1235.3,1134 1240.8,1134 C1251.8,1134 1267.8,1146 1277.8,1146 C1285.8,1146 1290.3,1140 1290.3,1132.5" fill="none" stroke="#7d62a8" stroke-width="4.6"/>
<path d="M1336.35,798.95 L1397.45,798.95 L1397.45,1090.5 L1396.1,1092 C1396.1,1099.5 1391.6,1105.5 1383.6,1105.5 C1373.6,1105.5 1357.6,1093.5 1346.6,1093.5 C1340.6,1093.5 1335.6,1097.5 1334.1,1105.5 L1336.35,1105.5 Z" fill="url(#gB5)"/>
<line x1="1336.35" y1="798.2" x2="1336.35" y2="1106" stroke="#6d4f96" stroke-width="1.5" />
<line x1="1397.45" y1="798.2" x2="1397.45" y2="1092.5" stroke="#6d4f96" stroke-width="1.5" />
<line x1="1335.6" y1="798.95" x2="1398.2" y2="798.95" stroke="#6d4f96" stroke-width="1.5" />
<path d="M1334.8,1103 C1336.6,1092.5 1341.1,1088.5 1346.6,1088.5 C1357.6,1088.5 1373.6,1100.5 1383.6,1100.5 C1391.6,1100.5 1396.1,1094.5 1396.1,1087" fill="none" stroke="#7d62a8" stroke-width="4.6"/>
<path d="M1336.35,1153 C1336.6,1143 1340.6,1139 1346.6,1139 C1357.6,1139 1373.6,1151 1383.6,1151 C1389.6,1151 1393.6,1148 1396.1,1141 L1397.45,1134.5 L1397.45,1268 L1336.35,1268 Z" fill="url(#gB5)"/>
<line x1="1336.35" y1="1152" x2="1336.35" y2="1268" stroke="#6d4f96" stroke-width="1.5" />
<line x1="1397.45" y1="1137" x2="1397.45" y2="1268" stroke="#6d4f96" stroke-width="1.5" />
<path d="M1334.8,1148.5 C1336.6,1138 1341.1,1134 1346.6,1134 C1357.6,1134 1373.6,1146 1383.6,1146 C1391.6,1146 1396.1,1140 1396.1,1132.5" fill="none" stroke="#7d62a8" stroke-width="4.6"/>
<g stroke="#000" fill="none" >
<line x1="943.4" y1="1245" x2="943.4" y2="1258.2" stroke-width="3.6"/>
<line x1="934.6" y1="1245" x2="952.2" y2="1245" stroke-width="3.7"/>
<line x1="934.6" y1="1258.2" x2="952.2" y2="1258.2" stroke-width="3.7"/>
</g>
<g stroke="#000" fill="none" >
<line x1="1051.1" y1="956.1" x2="1051.1" y2="1017" stroke-width="3.6"/>
<line x1="1042.3" y1="956.1" x2="1059.9" y2="956.1" stroke-width="3.7"/>
<line x1="1042.3" y1="1017" x2="1059.9" y2="1017" stroke-width="3.7"/>
</g>
<g stroke="#000" fill="none" >
<line x1="1155.65" y1="799.9" x2="1155.65" y2="818.9" stroke-width="3.6"/>
<line x1="1146.85" y1="799.9" x2="1164.45" y2="799.9" stroke-width="3.7"/>
<line x1="1146.85" y1="818.9" x2="1164.45" y2="818.9" stroke-width="3.7"/>
</g>
<rect x="1251.9" y="827.4" width="17.6" height="6.4" fill="#000" rx="0.6"/>
<rect x="1357.5" y="796.1" width="17.6" height="5.5" fill="#000" rx="0.6"/>
<line x1="850" y1="752.6" x2="1464.4" y2="752.6" stroke="#000" stroke-width="1.9" />
<line x1="861" y1="751.7" x2="861" y2="1105.7" stroke="#000" stroke-width="1.8" />
<line x1="861" y1="1145.4" x2="861" y2="1268" stroke="#000" stroke-width="1.8" />
<line x1="1463.5" y1="751.7" x2="1463.5" y2="1269" stroke="#000" stroke-width="1.9" />
<line x1="848" y1="1268" x2="1464.4" y2="1268" stroke="#000" stroke-width="2.2" />
<path d="M842.8,1121 C844.8,1115 846.8,1114 849.8,1114 C855.8,1114 861.8,1120 867.8,1120 C871.8,1120 874.3,1117 874.8,1113.5" fill="none" stroke="#000" stroke-width="2.2"/>
<path d="M842.8,1131.5 C844.8,1125.5 846.8,1124.5 849.8,1124.5 C855.8,1124.5 861.8,1130.5 867.8,1130.5 C871.8,1130.5 874.3,1127.5 874.8,1124" fill="none" stroke="#000" stroke-width="2.2"/>
<text x="843.7" y="809.8" font-size="42" text-anchor="end" fill="#000"  >100</text>
<text x="843.7" y="901.2" font-size="42" text-anchor="end" fill="#000"  >90</text>
<text x="843.7" y="997.1" font-size="42" text-anchor="end" fill="#000"  >80</text>
<text x="843.7" y="1090.1" font-size="42" text-anchor="end" fill="#000"  >70</text>
<text x="843.7" y="1184.5" font-size="42" text-anchor="end" fill="#000"  >10</text>
<text x="843.7" y="1271.2" font-size="42" text-anchor="end" fill="#000"  >0</text>
<text x="945.3" y="1302.5" font-size="42.5" text-anchor="middle" fill="#000"  >Control</text>
<text x="1053.2" y="1302.5" font-size="42.5" text-anchor="middle" fill="#000"  >1</text>
<text x="1158.7" y="1302.5" font-size="42.5" text-anchor="middle" fill="#000"  >5</text>
<text x="1261.7" y="1302.5" font-size="42.5" text-anchor="middle" fill="#000"  >10</text>
<text x="1365.9" y="1302.5" font-size="42.5" text-anchor="middle" fill="#000"  >30</text>
<text transform="translate(773.7,1035.3) rotate(-90)" font-size="42.5" text-anchor="middle">Virus reduction rate (%)</text>
<text x="1158.7" y="1347.8" font-size="42.8" text-anchor="middle" fill="#000"  >Exposure time to Si<tspan font-size="25.68" dy="9.84">3</tspan><tspan dy="-9.84">N</tspan><tspan font-size="25.68" dy="9.84">4</tspan><tspan dy="-9.84"> (min)</tspan></text>
<rect x="734.2" y="1299.6" width="92.8" height="49" fill="none" stroke="#000" stroke-width="1.8"/>
<text x="779.2" y="1335.1" font-size="44.8" text-anchor="middle" fill="#000"  ><tspan font-style="italic">n</tspan>=3</text>
</svg></body></html>
